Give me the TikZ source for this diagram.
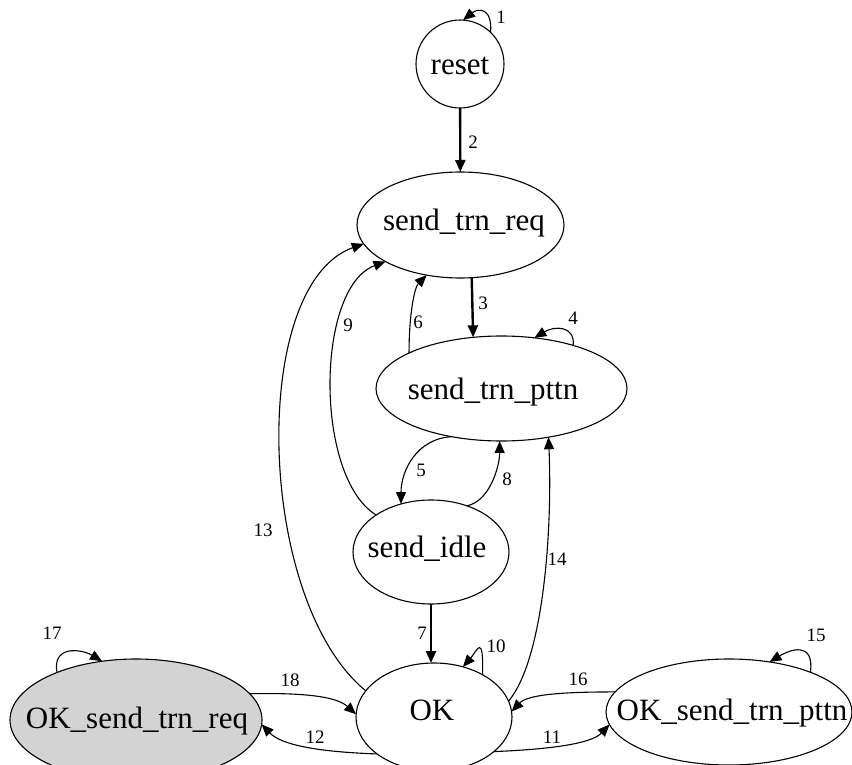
\documentclass[tikz,border=0pt]{standalone}
\usepackage{fontspec}
\setmainfont{Liberation Serif}
\usetikzlibrary{shapes.geometric,arrows.meta}
\begin{document}
\begin{tikzpicture}[x=1pt,y=-1pt,
  st/.style={draw,ellipse,line width=1.1pt,inner sep=0pt,outer sep=0pt},
  nt/.style={font=\fontsize{31}{36}\selectfont,anchor=base,inner sep=0pt},
  el/.style={font=\fontsize{19}{22}\selectfont,inner sep=0pt},
  tr/.style={line width=1.1pt,-{Triangle[length=12pt,width=10pt]}},
  bt/.style={line width=2.4pt,-{Triangle[length=12pt,width=10pt]}}]
\useasboundingbox (0,0) rectangle (852,765);
% states
\node[draw,circle,line width=1.1pt,inner sep=0pt,outer sep=0pt,minimum size=88pt] (reset) at (460,64) {};
\node[st,minimum width=207pt,minimum height=106pt] (req) at (460.5,225) {};
\node[st,minimum width=251pt,minimum height=105pt] (pttn) at (501.5,388.5) {};
\node[st,minimum width=156pt,minimum height=104pt] (idle) at (431,552) {};
\node[st,minimum width=156pt,minimum height=108pt] (OK) at (434,717) {};
\node[st,fill={rgb,255:red,211;green,211;blue,211},minimum width=252pt,minimum height=122pt] (OKreq) at (136,720) {};
\node[st,minimum width=246pt,minimum height=106pt] (OKpttn) at (729,712) {};
% state texts
\node[nt] (treset) at (460,75) {reset};
\node[nt] (treq) at (464,230) {send\_trn\_req};
\node[nt] (tpttn) at (493,399) {send\_trn\_pttn};
\node[nt] (tidle) at (427,557) {send\_idle};
\node[nt] (tOK) at (432,720) {OK};
\node[nt] (tOKreq) at (137,728) {OK\_send\_trn\_req};
\node[nt] (tOKpttn) at (732,720) {OK\_send\_trn\_pttn};
% transitions
\draw[tr] (reset.46) .. controls +(2,-25) and +(15,-12) .. (reset.86);
\draw[bt] (reset) -- (req);
\draw[bt] (req.-78) -- (pttn.119);
\draw[tr] (pttn.31) .. controls +(2,-20) and +(20,-12) .. (pttn.57);
\draw[tr] (pttn.159) .. controls +(0,-40) and +(-12,12) .. (req.-124);
\draw[tr] (idle.146) .. controls +(-62,-38) and +(-70,26) .. (req.-154);
\draw[tr] (OK.159) .. controls +(-110,-90) and +(-115,41) .. (req.-169);
\draw[tr] (pttn.-136) .. controls +(-35,2) and +(0,-33) .. (idle.122);
\draw[tr] (idle.52) .. controls +(23,-5) and +(0,25) .. (pttn.-92);
\draw[tr] (OK.12) .. controls +(35,-42) and +(4,93) .. (pttn.-46);
\draw[bt] (idle.south) -- (idle.south |- OK.north);
\draw[tr] (OK.41) .. controls +(1,-43) and +(14,-16) .. (OK.60);
\draw[tr] (OKreq.13) .. controls +(47,-1) and +(-21,-19) .. (OK.178);
\draw[tr] (OK.-147) .. controls +(-57,-2) and +(20,21) .. (OKreq.-2);
\draw[tr] (OK.-30) .. controls +(50,-2) and +(-19,20) .. (OKpttn.-174);
\draw[tr] (OKpttn.170) .. controls +(-45,0) and +(17,-18) .. (OK.4);
\draw[tr] (OKpttn.26) .. controls +(4,-32) and +(20,-12) .. (OKpttn.51);
\draw[tr] (OKreq.149) .. controls +(-5,-28) and +(-20,-12) .. (OKreq.120);
% transition labels
\node[el] (l1) at (501,17) {1};
\node[el] (l2) at (473,142) {2};
\node[el] (l3) at (483,303) {3};
\node[el] (l4) at (573,318) {4};
\node[el] (l5) at (421,470) {5};
\node[el] (l6) at (418,322) {6};
\node[el] (l7) at (422,633) {7};
\node[el] (l8) at (507,479) {8};
\node[el] (l9) at (348,325) {9};
\node[el] (l10) at (496,646) {10};
\node[el] (l11) at (552,737) {11};
\node[el] (l12) at (315,737) {12};
\node[el] (l13) at (263,530) {13};
\node[el] (l14) at (557,559) {14};
\node[el] (l15) at (816,635) {15};
\node[el] (l16) at (578,679) {16};
\node[el] (l17) at (52,633) {17};
\node[el] (l18) at (290,680) {18};
\end{tikzpicture}
\end{document}
